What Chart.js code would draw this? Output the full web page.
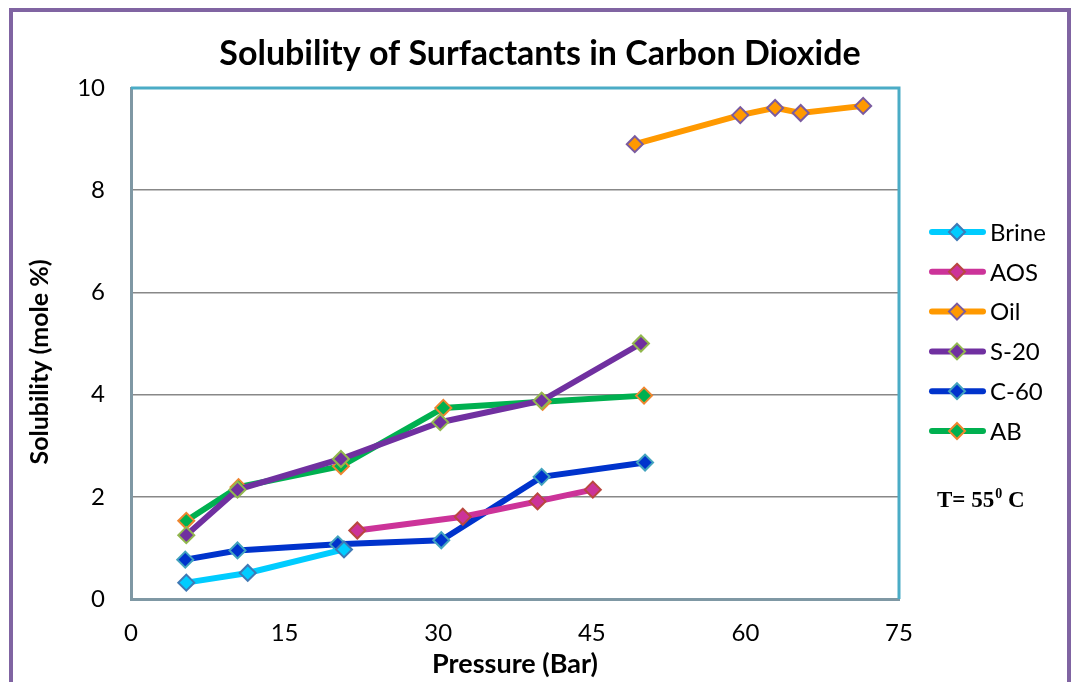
<!DOCTYPE html>
<html>
<head>
<meta charset="utf-8">
<script src="https://cdn.jsdelivr.net/npm/chart.js@4.4.0/dist/chart.umd.min.js"></script>
<style>
  html, body { margin: 0; padding: 0; background: #fff; }
</style>
</head>
<body>
<canvas id="chart" width="1073" height="682"></canvas>
<script>
// values
const xTicks = [0, 15, 30, 45, 60, 75];
const yTicks = [0, 2, 4, 6, 8, 10];

const brineX = [5.4, 11.4, 20.8];
const brineY = [0.32, 0.51, 0.97];

const aosX = [22.1, 32.4, 39.7, 45.1];
const aosY = [1.34, 1.61, 1.91, 2.14];

const oilX = [49.2, 59.5, 62.9, 65.4, 71.5];
const oilY = [8.9, 9.47, 9.61, 9.51, 9.65];

const s20X = [5.4, 10.4, 20.5, 30.2, 40.1, 49.8];
const s20Y = [1.25, 2.14, 2.74, 3.46, 3.88, 5.0];

const c60X = [5.3, 10.4, 20.2, 30.3, 40.1, 50.2];
const c60Y = [0.77, 0.95, 1.07, 1.15, 2.39, 2.67];

const abX = [5.4, 10.5, 20.5, 30.5, 40.2, 50.1];
const abY = [1.53, 2.19, 2.6, 3.74, 3.86, 3.98];

const seriesNames = ['Brine', 'AOS', 'Oil', 'S-20', 'C-60', 'AB'];
const lineColors = ['#00CCFF', '#CC3399', '#FF9900', '#7030A0', '#0033CC', '#00B050'];
const markerEdges = ['#3F79B5', '#B9473F', '#7A5BA0', '#92B84E', '#42A3BE', '#F0852F'];

function pts(xs, ys) {
  return xs.map((x, i) => ({ x: x, y: ys[i] }));
}

const seriesData = [
  pts(brineX, brineY),
  pts(aosX, aosY),
  pts(oilX, oilY),
  pts(s20X, s20Y),
  pts(c60X, c60Y),
  pts(abX, abY)
];

const FONT = 'Lato, "Open Sans", sans-serif';

const datasets = seriesNames.map((name, i) => ({
  label: name,
  data: seriesData[i],
  showLine: true,
  borderColor: lineColors[i],
  borderWidth: 6,
  tension: 0,
  pointStyle: 'rectRot',
  pointRadius: 8,
  pointHoverRadius: 8,
  pointBackgroundColor: lineColors[i],
  pointBorderColor: markerEdges[i],
  pointBorderWidth: 2
}));

function diamond(ctx, x, y, r, fill, edge) {
  ctx.beginPath();
  ctx.moveTo(x, y - r);
  ctx.lineTo(x + r, y);
  ctx.lineTo(x, y + r);
  ctx.lineTo(x - r, y);
  ctx.closePath();
  ctx.fillStyle = fill;
  ctx.fill();
  ctx.lineWidth = 2;
  ctx.strokeStyle = edge;
  ctx.stroke();
}

const decorations = {
  id: 'decorations',
  beforeDraw(chart) {
    const ctx = chart.ctx;
    ctx.save();
    ctx.fillStyle = '#fff';
    ctx.fillRect(0, 0, chart.width, chart.height);
    // purple frame round the whole chart
    ctx.strokeStyle = '#8064A2';
    ctx.lineWidth = 4;
    ctx.strokeRect(11, 10, 1058, 720);
    ctx.restore();
  },
  beforeDatasetsDraw(chart) {
    const { ctx, chartArea: a } = chart;
    ctx.save();
    ctx.strokeStyle = '#4BACC6';
    ctx.lineWidth = 3;
    ctx.beginPath();
    ctx.moveTo(a.left, a.top);
    ctx.lineTo(a.right, a.top);
    ctx.lineTo(a.right, a.bottom);
    ctx.stroke();
    ctx.restore();
  },
  afterDraw(chart) {
    const { ctx } = chart;
    ctx.save();
    // title
    ctx.fillStyle = '#000';
    ctx.textAlign = 'center';
    ctx.textBaseline = 'alphabetic';
    ctx.font = 'bold 34px ' + FONT;
    ctx.fillText('Solubility of Surfactants in Carbon Dioxide', 540, 65);

    // y axis title
    ctx.save();
    ctx.translate(40, 362);
    ctx.rotate(-Math.PI / 2);
    ctx.textBaseline = 'middle';
    ctx.font = 'bold 25px ' + FONT;
    ctx.fillText('Solubility (mole %)', 0, 0);
    ctx.restore();

    // legend
    ctx.textAlign = 'left';
    ctx.textBaseline = 'middle';
    ctx.font = '24px ' + FONT;
    seriesNames.forEach((name, i) => {
      const y = 232 + i * 39.8;
      ctx.strokeStyle = lineColors[i];
      ctx.lineWidth = 6;
      ctx.lineCap = 'round';
      ctx.beginPath();
      ctx.moveTo(932, y);
      ctx.lineTo(983, y);
      ctx.stroke();
      diamond(ctx, 957, y, 8, lineColors[i], markerEdges[i]);
      ctx.fillStyle = '#000';
      ctx.fillText(name, 990, y + 1);
    });

    // temperature note
    ctx.textBaseline = 'alphabetic';
    ctx.font = 'bold 23px "Liberation Serif", serif';
    let x = 937;
    ctx.fillText('T= 55', x, 507);
    x += ctx.measureText('T= 55').width;
    ctx.font = 'bold 14px "Liberation Serif", serif';
    ctx.fillText('0', x + 1, 498);
    x += ctx.measureText('0').width + 1;
    ctx.font = 'bold 23px "Liberation Serif", serif';
    ctx.fillText(' C', x, 507);
    ctx.restore();
  }
};

new Chart(document.getElementById('chart').getContext('2d'), {
  type: 'scatter',
  data: { datasets: datasets },
  options: {
    responsive: false,
    animation: false,
    layout: { padding: { left: 0, top: 88, right: 174, bottom: 0 } },
    plugins: {
      legend: { display: false },
      title: { display: false },
      tooltip: { enabled: false }
    },
    scales: {
      x: {
        type: 'linear',
        min: 0,
        max: 75,
        afterBuildTicks: (scale) => { scale.ticks = xTicks.map(v => ({ value: v })); },
        afterFit: (scale) => { scale.height = 83; },
        ticks: { color: '#000', font: { family: FONT, size: 24 }, padding: 20 },
        grid: { color: 'rgba(0,0,0,0)', drawTicks: false },
        border: { color: '#7f98a4', width: 3 },
        title: {
          display: true,
          text: 'Pressure (Bar)',
          color: '#000',
          font: { family: FONT, size: 27, weight: 'bold' },
          padding: { top: 0, bottom: 2 }
        }
      },
      y: {
        type: 'linear',
        min: 0,
        max: 10,
        afterBuildTicks: (scale) => { scale.ticks = yTicks.map(v => ({ value: v })); },
        afterFit: (scale) => { scale.width = 131; },
        ticks: { color: '#000', font: { family: FONT, size: 24 }, padding: 26 },
        grid: { color: '#888888', lineWidth: 1.5, drawTicks: false },
        border: { color: '#7f98a4', width: 3 }
      }
    }
  },
  plugins: [decorations]
});
</script>
</body>
</html>
